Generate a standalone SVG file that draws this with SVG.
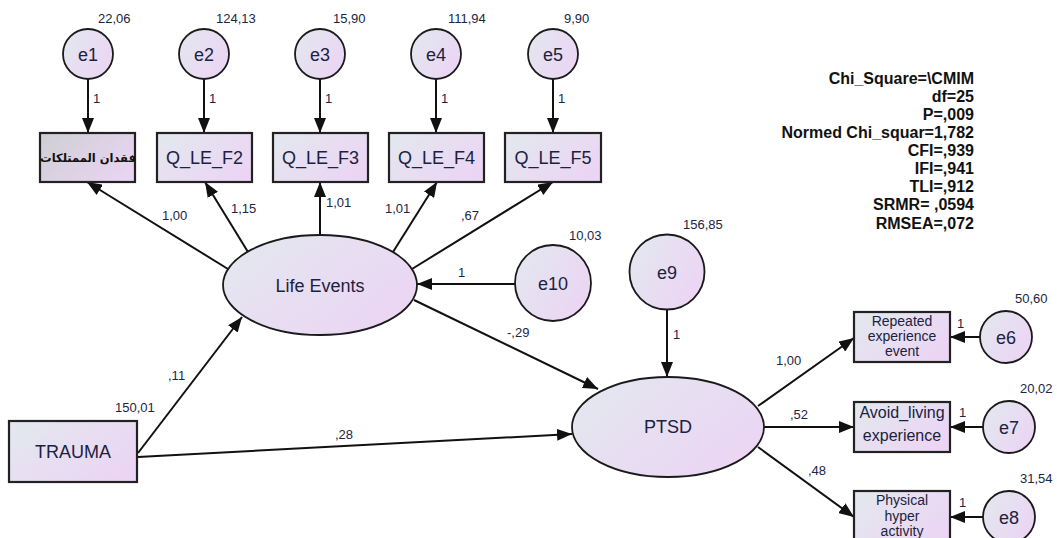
<svg xmlns="http://www.w3.org/2000/svg" width="1057" height="538" viewBox="0 0 1057 538">
  <defs>
    <linearGradient id="fillG" x1="0" y1="0.2" x2="1" y2="0.8">
      <stop offset="0" stop-color="#e3e7ef"/>
      <stop offset="1" stop-color="#ecd4f4"/>
    </linearGradient>
    <linearGradient id="fillGray" x1="0" y1="0.2" x2="1" y2="0.8">
      <stop offset="0" stop-color="#cfd0d6"/>
      <stop offset="1" stop-color="#ead4f2"/>
    </linearGradient>
    <marker id="arr" markerUnits="userSpaceOnUse" markerWidth="16" markerHeight="12" refX="15" refY="6" orient="auto">
      <path d="M0,0 L15,6 L0,12 z" fill="#111"/>
    </marker>
    <style>
      .box { fill: url(#fillG); stroke: #222; stroke-width: 2.2; }
      .lat { fill: url(#fillG); stroke: #1a1a1a; stroke-width: 1.8; }
      .lbl { font-family: "Liberation Sans", Arial, sans-serif; font-size: 18px; fill: #1b2240; text-anchor: middle; }
      .num { font-family: "Liberation Sans", Arial, sans-serif; font-size: 13px; fill: #1b2545; }
      .sm { font-family: "Liberation Sans", Arial, sans-serif; font-size: 14px; fill: #1b2240; text-anchor: middle; }
      .md { font-family: "Liberation Sans", Arial, sans-serif; font-size: 16px; fill: #1b2240; text-anchor: middle; }
      .fit { font-family: "Liberation Sans", Arial, sans-serif; font-size: 16px; font-weight: bold; fill: #111; text-anchor: end; }
      .cn line { stroke: #111; stroke-width: 2; marker-end: url(#arr); }
    </style>
  </defs>
  <rect width="1057" height="538" fill="#ffffff"/>

  <!-- connectors -->
  <g id="connectors" class="cn">
    <line x1="88" y1="79" x2="88" y2="133"/>
    <line x1="204" y1="79" x2="204" y2="133"/>
    <line x1="320" y1="79" x2="320" y2="133"/>
    <line x1="436" y1="79" x2="436" y2="133"/>
    <line x1="553" y1="79" x2="553" y2="133"/>
    <line x1="228" y1="269" x2="87" y2="182"/>
    <line x1="248" y1="252" x2="205" y2="182"/>
    <line x1="320" y1="235" x2="320" y2="182"/>
    <line x1="393" y1="252" x2="437" y2="182"/>
    <line x1="412" y1="269" x2="553" y2="182"/>
    <line x1="515" y1="284" x2="417" y2="284"/>
    <line x1="138" y1="453" x2="242" y2="317"/>
    <line x1="138" y1="457" x2="572" y2="434"/>
    <line x1="414" y1="300" x2="598" y2="389"/>
    <line x1="667" y1="310" x2="667" y2="377"/>
    <line x1="758" y1="406" x2="854" y2="338"/>
    <line x1="764" y1="427" x2="854" y2="427"/>
    <line x1="758" y1="447" x2="854" y2="517"/>
    <line x1="980" y1="337" x2="950" y2="337"/>
    <line x1="983" y1="427" x2="950" y2="427"/>
    <line x1="983" y1="517" x2="950" y2="517"/>
  </g>

  <!-- connector labels -->
  <g id="path-labels" class="num">
    <text x="93" y="103">1</text>
    <text x="209" y="103">1</text>
    <text x="325" y="103">1</text>
    <text x="441" y="103">1</text>
    <text x="558" y="103">1</text>
    <text x="162" y="220">1,00</text>
    <text x="231" y="213">1,15</text>
    <text x="326" y="207">1,01</text>
    <text x="385" y="213">1,01</text>
    <text x="461" y="220">,67</text>
    <text x="458" y="277">1</text>
    <text x="168" y="380">,11</text>
    <text x="335" y="439">,28</text>
    <text x="507" y="337">-,29</text>
    <text x="673" y="339">1</text>
    <text x="776" y="365">1,00</text>
    <text x="790" y="419">,52</text>
    <text x="808" y="475">,48</text>
    <text x="957" y="328">1</text>
    <text x="959" y="417">1</text>
    <text x="959" y="507">1</text>
  </g>

  <!-- error terms of Life Events indicators -->
  <g id="e1"><circle class="lat" cx="88" cy="54" r="25"/><text class="lbl" x="88" y="61">e1</text><text class="num" x="98" y="23">22,06</text></g>
  <g id="e2"><circle class="lat" cx="204" cy="54" r="25"/><text class="lbl" x="204" y="61">e2</text><text class="num" x="216" y="23">124,13</text></g>
  <g id="e3"><circle class="lat" cx="320" cy="54" r="25"/><text class="lbl" x="320" y="61">e3</text><text class="num" x="333" y="23">15,90</text></g>
  <g id="e4"><circle class="lat" cx="436" cy="54" r="25"/><text class="lbl" x="436" y="61">e4</text><text class="num" x="448" y="23">111,94</text></g>
  <g id="e5"><circle class="lat" cx="553" cy="54" r="25"/><text class="lbl" x="553" y="61">e5</text><text class="num" x="564" y="23">9,90</text></g>

  <!-- Life Events indicators -->
  <g id="box1"><rect x="40" y="133" width="95" height="49" fill="url(#fillGray)" stroke="#222" stroke-width="2.2"/><text x="88" y="162" font-family="'DejaVu Sans', 'Noto Sans', sans-serif" font-size="11.5" font-weight="bold" fill="#111" text-anchor="middle">فقدان الممتلكات</text></g>
  <g id="box2"><rect class="box" x="157" y="133" width="95" height="49"/><text class="lbl" x="204.5" y="164">Q_LE_F2</text></g>
  <g id="box3"><rect class="box" x="273" y="133" width="95" height="49"/><text class="lbl" x="320.5" y="164">Q_LE_F3</text></g>
  <g id="box4"><rect class="box" x="389" y="133" width="95" height="49"/><text class="lbl" x="436.5" y="164">Q_LE_F4</text></g>
  <g id="box5"><rect class="box" x="505" y="133" width="96" height="49"/><text class="lbl" x="553" y="164">Q_LE_F5</text></g>

  <!-- latent variables -->
  <g id="life-events"><ellipse class="lat" cx="320" cy="285" rx="97" ry="50"/><text class="lbl" x="320" y="292">Life Events</text></g>
  <g id="e10"><circle class="lat" cx="553" cy="283" r="38"/><text class="lbl" x="553" y="290">e10</text><text class="num" x="569" y="240">10,03</text></g>
  <g id="ptsd"><ellipse class="lat" cx="668" cy="427" rx="96" ry="50"/><text class="lbl" x="668" y="433">PTSD</text></g>
  <g id="e9"><circle class="lat" cx="667" cy="272" r="37.5"/><text class="lbl" x="667" y="279">e9</text><text class="num" x="683" y="229">156,85</text></g>

  <!-- exogenous observed -->
  <g id="trauma"><rect class="box" x="9" y="421" width="128" height="61"/><text class="lbl" x="73" y="458">TRAUMA</text><text class="num" x="115" y="412">150,01</text></g>

  <!-- PTSD indicators -->
  <g id="box6"><rect class="box" x="854" y="312" width="96" height="50"/><text class="sm" x="902" y="326">Repeated</text><text class="sm" x="902" y="341">experience</text><text class="sm" x="902" y="356">event</text></g>
  <g id="box7"><rect class="box" x="854" y="402" width="96" height="50"/><text class="md" x="902" y="418">Avoid_living</text><text class="md" x="902" y="441">experience</text></g>
  <g id="box8"><rect class="box" x="854" y="491" width="96" height="60"/><text class="sm" x="902" y="505">Physical</text><text class="sm" x="902" y="521">hyper</text><text class="sm" x="902" y="536">activity</text></g>

  <g id="e6"><circle class="lat" cx="1006" cy="337" r="26"/><text class="lbl" x="1006" y="344">e6</text><text class="num" x="1015" y="303">50,60</text></g>
  <g id="e7"><circle class="lat" cx="1009" cy="427" r="26"/><text class="lbl" x="1009" y="434">e7</text><text class="num" x="1020" y="393">20,02</text></g>
  <g id="e8"><circle class="lat" cx="1009" cy="517" r="26"/><text class="lbl" x="1009" y="524">e8</text><text class="num" x="1020" y="483">31,54</text></g>

  <!-- model fit summary -->
  <g id="fit-indices" class="fit">
    <text x="974" y="84">Chi_Square=\CMIM</text>
    <text x="974" y="102">df=25</text>
    <text x="974" y="120">P=,009</text>
    <text x="974" y="138">Normed Chi_squar=1,782</text>
    <text x="974" y="156">CFI=,939</text>
    <text x="974" y="174">IFI=,941</text>
    <text x="974" y="192">TLI=,912</text>
    <text x="974" y="210">SRMR= ,0594</text>
    <text x="974" y="229">RMSEA=,072</text>
  </g>
</svg>
